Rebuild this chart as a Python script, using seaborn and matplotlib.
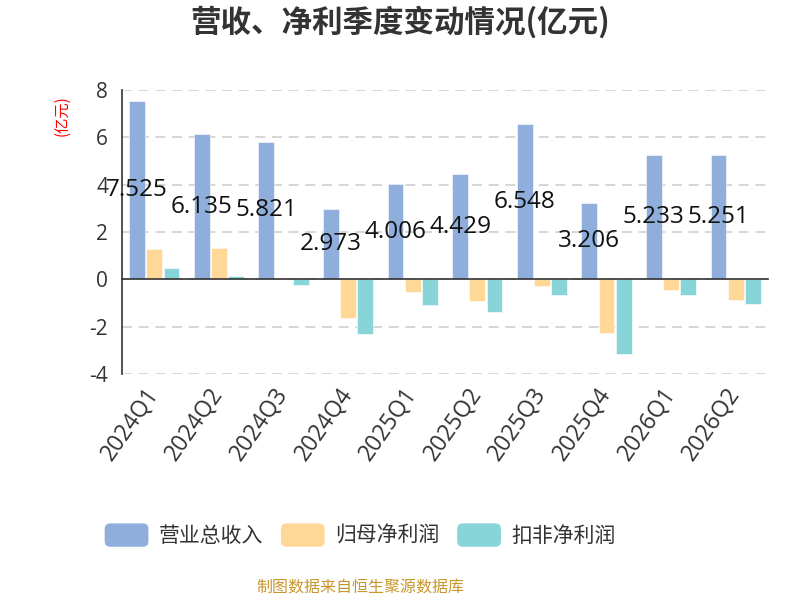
import numpy as np
import pandas as pd
import matplotlib
matplotlib.use("Agg")
import matplotlib.pyplot as plt
import seaborn as sns
from matplotlib.patches import Patch, FancyBboxPatch
from matplotlib.legend_handler import HandlerPatch

# Chart data (亿元)
quarters = ["2024Q1", "2024Q2", "2024Q3", "2024Q4", "2025Q1",
            "2025Q2", "2025Q3", "2025Q4", "2026Q1", "2026Q2"]
revenue = [7.525, 6.135, 5.821, 2.973, 4.006, 4.429, 6.548, 3.206, 5.233, 5.251]
net_profit = [1.26, 1.34, 0.07, -1.62, -0.54, -0.92, -0.30, -2.27, -0.44, -0.86]
deducted_profit = [0.48, 0.13, -0.23, -2.30, -1.07, -1.38, -0.66, -3.17, -0.66, -1.06]
series_names = ["营业总收入", "归母净利润", "扣非净利润"]
colors = ["#8FAEDB", "#FFD898", "#87D5D8"]

df = pd.DataFrame({
    "quarter": quarters * 3,
    "series": np.repeat(series_names, len(quarters)),
    "value": revenue + net_profit + deducted_profit,
})

sns.set_style("white")
plt.rcParams["font.family"] = ["Open Sans", "Noto Sans CJK SC", "DejaVu Sans"]
plt.rcParams["axes.unicode_minus"] = False
cjk = ["Noto Sans CJK SC", "DejaVu Sans"]

fig = plt.figure(figsize=(8, 6), dpi=100)
ax = fig.add_axes([0.1525, 0.377, 0.8075, 0.473])

bar_width = 0.8
sns.barplot(data=df, x="quarter", y="value", hue="series", palette=colors,
            saturation=1, width=bar_width, gap=0.08, legend=False, ax=ax,
            edgecolor="white", linewidth=0.4)

ax.set_ylim(-4, 8)
ax.set_yticks(np.arange(-4, 9, 2))
ax.set_xlim(-0.5, len(quarters) - 0.5)
ax.set_xlabel("")
ax.set_ylabel("")
ax.yaxis.grid(True, linestyle=(0, (6, 4)), color="#d0d0d0", linewidth=1.2)
ax.xaxis.grid(False)
ax.set_axisbelow(True)

for s in ["top", "right"]:
    ax.spines[s].set_visible(False)
ax.spines["left"].set_color("#333333")
ax.spines["left"].set_linewidth(1.2)
ax.spines["bottom"].set_position(("data", 0))
ax.spines["bottom"].set_color("#333333")
ax.spines["bottom"].set_linewidth(1.2)

# tick marks on the zero line at category boundaries
ax.set_xticks(np.arange(-0.5, len(quarters), 1))
ax.set_xticklabels([])
ax.tick_params(axis="x", direction="out", length=6, width=1.2, color="#333333")
ax.tick_params(axis="y", direction="out", length=6, width=1.2, color="#333333",
               labelsize=15, labelcolor="#333333", pad=4)

# quarter labels at the bottom of the plot
sec = ax.secondary_xaxis("bottom")
sec.set_xticks(range(len(quarters)))
sec.set_xticklabels(quarters, rotation=55, ha="right", va="center",
                    rotation_mode="anchor", fontsize=16.5, color="#333333")
sec.tick_params(length=0, pad=12)
sec.spines["bottom"].set_visible(False)

# value labels for revenue, centred on the revenue bar
for i, v in enumerate(revenue):
    ax.text(i - bar_width / 3, v / 2, f"{v:.3f}", ha="center", va="center",
            fontsize=17.5, color="#111111")

fig.text(0.5, 0.962, "营收、净利季度变动情况(亿元)", ha="center", va="center",
         fontsize=22, fontweight="bold", color="#333333", family=cjk)
fig.text(0.078, 0.808, "(亿元)", ha="center", va="center", rotation=90,
         fontsize=11, color="#ff0000", family=cjk)
fig.text(0.451, 0.02, "制图数据来自恒生聚源数据库", ha="center", va="center",
         fontsize=11.5, color="#C8962A", family=cjk)


class RoundHandler(HandlerPatch):
    def create_artists(self, legend, orig_handle, xdescent, ydescent,
                       width, height, fontsize, trans):
        p = FancyBboxPatch((-xdescent, -ydescent), width, height,
                           boxstyle="round,pad=0,rounding_size=4",
                           facecolor=orig_handle.get_facecolor(),
                           edgecolor="none", transform=trans)
        return [p]


handles = [Patch(facecolor=c, label=n) for c, n in zip(colors, series_names)]
fig.legend(handles=handles, loc="center", bbox_to_anchor=(0.45, 0.108), ncol=3,
           frameon=False, prop={"family": cjk, "size": 15},
           handlelength=2.1, handleheight=1.35,
           handletextpad=0.48, columnspacing=0.87, labelcolor="#333333",
           handler_map={Patch: RoundHandler()})

fig.savefig("out.png", dpi=100)
